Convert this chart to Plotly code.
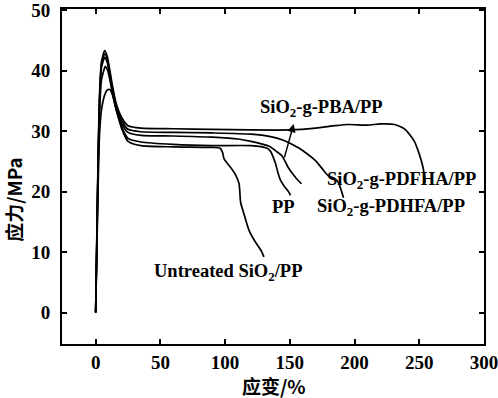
import plotly.graph_objects as go

# ---- data (strain %, stress MPa) ----
pdfha_x = [0, 1, 2, 3, 4.5, 7, 9, 11, 13, 16, 20, 25, 35, 60, 90, 120, 150, 170, 185, 195, 210, 220, 231, 239, 246, 250, 253, 254.6]
pdfha_y = [0, 14, 27, 36, 41.5, 43.3, 42.3, 40, 37.5, 34.5, 32.3, 30.9, 30.5, 30.4, 30.3, 30.2, 30.2, 30.5, 30.9, 31.1, 31.0, 31.2, 31.1, 30.3, 28.4, 26.2, 23.9, 21.5]

pdhfa_x = [0, 1, 2, 3, 4.5, 7, 9, 11, 13, 16, 20, 25, 35, 60, 90, 120, 135, 145, 152, 157, 163, 170, 175, 178, 182, 186, 188, 190, 191.5]
pdhfa_y = [0, 13, 26, 35, 41, 42.8, 41.8, 39.5, 37, 34, 31.8, 30.3, 29.9, 29.8, 29.7, 29.5, 29.1, 28.5, 27.8, 27.2, 26.3, 25.1, 23.8, 23.0, 22.2, 21.9, 21.3, 20.0, 19.0]

pba_x = [0, 1, 2, 3, 4.5, 7.5, 9, 11, 13, 16, 20, 25, 35, 60, 90, 110, 120, 134, 140, 144, 149, 154.6, 159]
pba_y = [0, 12.5, 25, 33, 38.5, 40.7, 40.2, 38.5, 36.3, 33.5, 31.3, 29.8, 29.3, 29.2, 29.0, 28.7, 28.3, 27.5, 26.6, 25.9, 23.9, 22.3, 21.3]

pp_x = [0, 1, 2, 3, 4.5, 7, 9, 11, 13, 16, 20, 25, 35, 60, 90, 120, 132, 135, 137, 139, 141, 143, 146, 149, 150.5]
pp_y = [0, 13, 26, 35, 40.5, 42.2, 41.3, 39, 36.5, 33.5, 30.8, 28.8, 28.2, 27.8, 27.6, 27.6, 27.2, 26.7, 25.8, 24.6, 23.0, 21.8, 20.8, 20.0, 19.4]

untr_x = [0, 1, 2, 3, 4.5, 7, 9, 11, 13, 16, 20, 25, 35, 60, 90, 96, 98, 99.2, 102, 105, 108, 110.8, 111.5, 112, 115, 118.5, 123, 127.7, 130]
untr_y = [0, 11, 22, 29.5, 33.5, 36.0, 36.8, 36.9, 36.0, 33.5, 30.5, 28.3, 27.6, 27.4, 27.3, 27.2, 26.5, 25.4, 24.6, 23.8, 22.8, 21.3, 19.5, 18.2, 16.0, 13.6, 11.8, 10.3, 9.2]

x_ticks = [0, 50, 100, 150, 200, 250, 300]
y_ticks = [0, 10, 20, 30, 40, 50]

fig = go.Figure()
for xs, ys in [(pdfha_x, pdfha_y), (pdhfa_x, pdhfa_y), (pba_x, pba_y), (pp_x, pp_y), (untr_x, untr_y)]:
    fig.add_trace(go.Scatter(x=xs, y=ys, mode="lines",
                             line=dict(color="black", width=1.7, shape="spline", smoothing=0.6),
                             showlegend=False, hoverinfo="skip"))

serif = "Liberation Serif"
lab_font = dict(family=serif, size=18.5, color="black", weight="bold")

labels = [
    ("SiO<sub>2</sub>-g-PBA/PP", 174.6, 33.8),
    ("SiO<sub>2</sub>-g-PDFHA/PP", 236, 21.8),
    ("SiO<sub>2</sub>-g-PDHFA/PP", 228.5, 17.4),
    ("PP", 145.4, 17.4),
    ("Untreated SiO<sub>2</sub>/PP", 102.3, 6.7),
]
for t, x, y in labels:
    fig.add_annotation(x=x, y=y, text=t, showarrow=False, font=lab_font,
                       xanchor="center", yanchor="middle")

fig.add_annotation(x=153, y=31.2, ax=145.5, ay=25.4, axref="x", ayref="y",
                   text="", showarrow=True, arrowhead=2, arrowsize=1.2,
                   arrowwidth=1.4, arrowcolor="black")

# axis titles
cjk = dict(family="Noto Sans CJK SC", size=19, color="black", weight="bold")
fig.add_annotation(xref="paper", yref="paper", x=0.502, y=-0.125, text="应变/%",
                   showarrow=False, font=cjk, xanchor="center", yanchor="middle")
fig.add_annotation(xref="paper", yref="paper", x=-0.114, y=0.433, text="应力/MPa",
                   showarrow=False, font=cjk, textangle=-90, xanchor="center", yanchor="middle")

axis_common = dict(showline=True, linecolor="black", linewidth=2, mirror="ticks",
                   ticks="inside", ticklen=5, tickwidth=1.5, tickcolor="black",
                   showgrid=False, zeroline=False, automargin=False,
                   ticklabeloverflow="allow",
                   tickfont=dict(family=serif, size=19, color="black", weight="bold"))

fig.update_xaxes(range=[-26, 300], tickvals=x_ticks, ticklabelstandoff=0, **axis_common)
fig.update_yaxes(range=[-5.2, 50.2], tickvals=y_ticks, ticklabelstandoff=6, **axis_common)

fig.update_layout(width=498, height=398, margin=dict(l=62, r=14, t=9, b=54),
                  paper_bgcolor="white", plot_bgcolor="white")

fig.write_html("out.html")
